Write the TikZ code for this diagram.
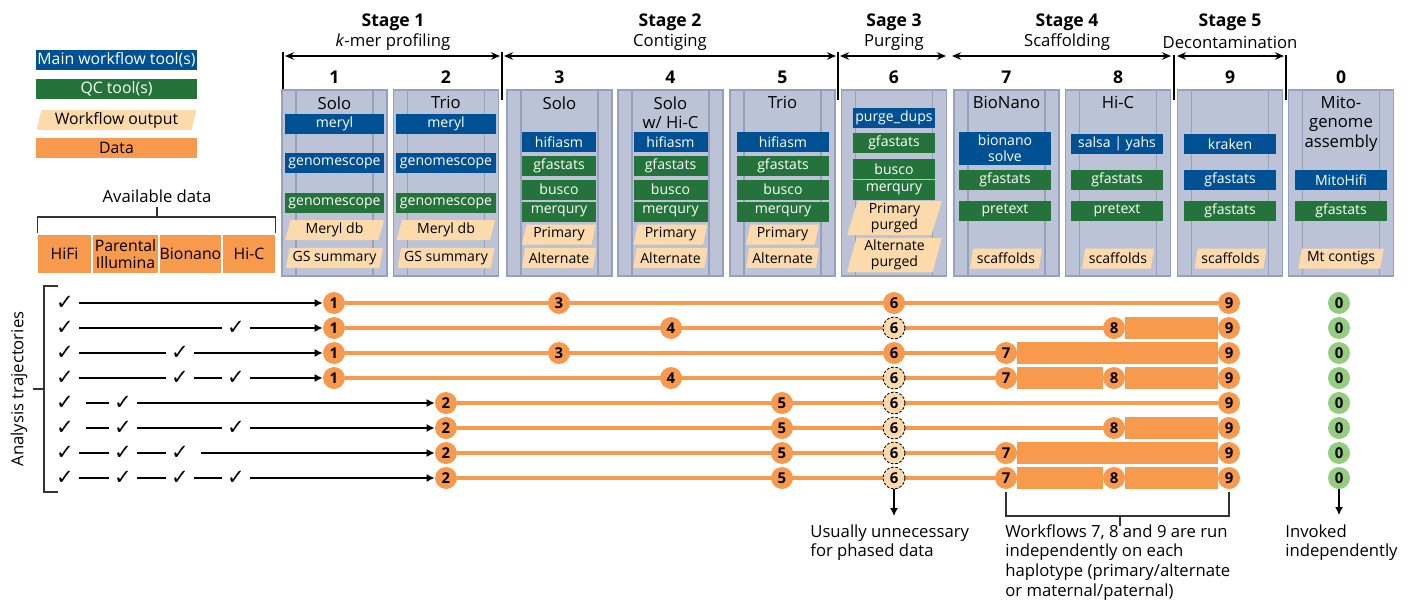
\documentclass[tikz,border=0pt]{standalone}
\usepackage{fontspec}
\setmainfont{Open Sans}
\newfontfamily\checkfont{DejaVu Sans}
\usetikzlibrary{positioning,arrows.meta,shapes.geometric,calc,backgrounds}
\definecolor{ToolBlue}{RGB}{0,81,147}
\definecolor{QCGreen}{RGB}{36,115,58}
\definecolor{OutPeach}{RGB}{253,218,172}
\definecolor{DataOrange}{RGB}{247,154,78}
\definecolor{PanelGrey}{RGB}{189,195,214}
\definecolor{PanelLine}{RGB}{150,160,189}
\definecolor{MitoGreen}{RGB}{148,204,128}

\begin{document}
\begin{tikzpicture}[
    x=0.02cm, y=-0.02cm,
    every node/.style={inner sep=0pt},
    panel/.style={rectangle, fill=PanelGrey, draw=PanelLine, line width=0.6pt,
        minimum width=2.1cm, minimum height=3.72cm,
        path picture={
            \draw[PanelLine, line width=0.8pt]
                ([xshift=0.28cm]path picture bounding box.north west) -- ([xshift=0.28cm]path picture bounding box.south west)
                ([xshift=-0.28cm]path picture bounding box.north east) -- ([xshift=-0.28cm]path picture bounding box.south east);
        }},
    coltitle/.style={anchor=north, align=center, font=\fontsize{9.5}{11}\selectfont},
    colnum/.style={font=\fontsize{10}{12}\selectfont\bfseries},
    stagetitle/.style={font=\fontsize{10}{12}\selectfont\bfseries},
    stagesub/.style={font=\fontsize{9.5}{11}\selectfont},
    stagearrow/.style={{Stealth[length=1.8mm,width=1.5mm]}-{Stealth[length=1.8mm,width=1.5mm]}, line width=0.8pt},
    stagetick/.style={line width=0.8pt},
    tool/.style={rectangle, fill=ToolBlue, text=white, minimum height=0.4cm,
        font=\fontsize{8}{9}\selectfont, align=center},
    qc/.style={tool, fill=QCGreen},
    output/.style={trapezium, trapezium left angle=76, trapezium right angle=104,
        trapezium stretches=true, fill=OutPeach, minimum height=0.4cm,
        font=\fontsize{8}{9}\selectfont, align=center},
    datbox/.style={rectangle, fill=DataOrange, minimum height=0.76cm,
        font=\fontsize{9}{9.6}\selectfont, align=center},
    legbox/.style={minimum width=3.22cm, minimum height=0.4cm, font=\fontsize{9}{10}\selectfont},
    chk/.style={font=\checkfont\fontsize{12}{12}\selectfont, minimum width=0.54cm},
    traj/.style={line width=0.8pt},
    trajend/.style={traj, -{Latex[length=1.6mm,width=1.6mm]}},
    short/.style={shorten <=0.14cm},
    brk/.style={line width=0.6pt, black!80},
    wf/.style={circle, fill=DataOrange, minimum size=0.44cm, font=\fontsize{8.5}{9}\selectfont\bfseries},
    wfskip/.style={wf, fill=OutPeach, draw=black, dashed, line width=0.5pt, dash pattern=on 1.5pt off 1pt},
    mito/.style={wf, fill=MitoGreen},
    orline/.style={DataOrange, line width=2.8pt},
    note/.style={anchor=north west, align=left, font=\fontsize{9.5}{11.3}\selectfont},
]
\path[use as bounding box] (0,0) rectangle (1416,599);

\node[legbox, fill=ToolBlue, text=white] (lgmain) at (116.5,60) {Main workflow tool(s)};
\node[legbox, fill=QCGreen, text=white] (lgqc) at (116.5,89) {QC tool(s)};
\node[output, minimum width=3.22cm, font=\fontsize{9}{10}\selectfont] (lgout) at (116.5,120) {Workflow output};
\node[legbox, fill=DataOrange] (lgdata) at (116.5,148) {Data};

\node[font=\fontsize{9.5}{11}\selectfont] (avail) at (157,196) {Available data};
\node[datbox, minimum width=1.06cm] (dHiFi) at (64.5,254) {HiFi};
\node[datbox, minimum width=1.30cm] (dPar) at (125.5,254) {Parental\\Illumina};
\node[datbox, minimum width=1.22cm] (dBio) at (190.5,254) {Bionano};
\node[datbox, minimum width=1.04cm] (dHiC) at (249,254) {Hi-C};
\coordinate (avb) at (157,217);
\draw[brk] ([yshift=0.04cm]dHiFi.north west) |- (avb) -| ([yshift=0.04cm]dHiC.north east);
\draw[brk] (avb) -- ++(0,-10);

\node[stagetitle] (st1) at (393,22) {Stage 1};
\node[stagesub] (ss1) at (393,42) {\textit{k}-mer profiling};
\node[stagetitle] (st2) at (670,22) {Stage 2};
\node[stagesub] (ss2) at (670,42) {Contiging};
\node[stagetitle] (st3) at (894,22) {Sage 3};
\node[stagesub] (ss3) at (894,42) {Purging};
\node[stagetitle] (st4) at (1067,22) {Stage 4};
\node[stagesub] (ss4) at (1067,42) {Scaffolding};
\node[stagetitle] (st5) at (1230,22) {Stage 5};
\node[stagesub] (ss5) at (1230,42) {Decontamination};

\coordinate (a1l) at (285,56);  \coordinate (a1r) at (500,56);
\coordinate (a2l) at (504,56);  \coordinate (a2r) at (836,56);
\coordinate (a3l) at (840,56);  \coordinate (a3r) at (946,56);
\coordinate (a4l) at (952,56);  \coordinate (a4r) at (1171,56);
\coordinate (a5l) at (1177,56); \coordinate (a5r) at (1284,56);
\draw[stagearrow] (a1l) -- (a1r);
\draw[stagearrow] (a2l) -- (a2r);
\draw[stagearrow] (a3l) -- (a3r);
\draw[stagearrow] (a4l) -- (a4r);
\draw[stagearrow] (a5l) -- (a5r);
\draw[stagetick] (283,52) -- (283,100);
\draw[stagetick] (502,52) -- (502,100);
\draw[stagetick] (838,52) -- (838,100);
\draw[stagetick] (1174,55) -- (1174,100);
\draw[stagetick] (1286,55) -- (1286,100);

\node[colnum] (n1) at (334.5,77) {1};
\node[colnum] (n2) at (446,77) {2};
\node[colnum] (n3) at (559.5,77) {3};
\node[colnum] (n4) at (670.5,77) {4};
\node[colnum] (n5) at (782.5,77) {5};
\node[colnum] (n6) at (894,77) {6};
\node[colnum] (n7) at (1006.5,77) {7};
\node[colnum] (n8) at (1118,77) {8};
\node[colnum] (n9) at (1230,77) {9};
\node[colnum] (n0) at (1341,77) {0};

\node[panel] (p1) at (334.5,183) {};
\node[panel] (p2) at (446,183) {};
\node[panel] (p3) at (559.5,183) {};
\node[panel] (p4) at (670.5,183) {};
\node[panel] (p5) at (782.5,183) {};
\node[panel] (p6) at (894,183) {};
\node[panel] (p7) at (1006.5,183) {};
\node[panel] (p8) at (1118,183) {};
\node[panel] (p9) at (1230,183) {};
\node[panel] (p0) at (1341,183) {};

\node[coltitle] (h1) at (334.5,96) {Solo};
\node[tool, minimum width=2cm] (c1meryl) at (334.5,123.5) {meryl};
\node[tool, minimum width=2cm] (c1gs) at (334.5,163) {genomescope};
\node[qc, minimum width=2cm] (c1gsqc) at (334.5,203) {genomescope};
\node[output, minimum width=1.98cm] (c1db) at (334.5,230) {Meryl db};
\node[output, minimum width=1.94cm] (c1sum) at (334.5,258) {GS summary};

\node[coltitle] (h2) at (446,96) {Trio};
\node[tool, minimum width=2cm] (c2meryl) at (446,123.5) {meryl};
\node[tool, minimum width=2cm] (c2gs) at (446,163) {genomescope};
\node[qc, minimum width=2cm] (c2gsqc) at (446,203) {genomescope};
\node[output, minimum width=1.98cm] (c2db) at (446,230) {Meryl db};
\node[output, minimum width=1.94cm] (c2sum) at (446,258) {GS summary};

\node[coltitle] (h3) at (559.5,96) {Solo};
\node[tool, minimum width=1.48cm] (c3hifi) at (559,142) {hifiasm};
\node[qc, minimum width=1.48cm] (c3gfa) at (559,165.5) {gfastats};
\node[qc, minimum width=1.48cm] (c3bus) at (559,189.5) {busco};
\node[qc, minimum width=1.48cm] (c3mer) at (559,211.5) {merqury};
\node[output, minimum width=1.48cm] (c3pri) at (559,234.5) {Primary};
\node[output, minimum width=1.48cm] (c3alt) at (559,258) {Alternate};

\node[coltitle] (h4) at (670.5,96) {Solo\\w/ Hi-C};
\node[tool, minimum width=1.48cm] (c4hifi) at (670.5,142) {hifiasm};
\node[qc, minimum width=1.48cm] (c4gfa) at (670.5,165.5) {gfastats};
\node[qc, minimum width=1.48cm] (c4bus) at (670.5,189.5) {busco};
\node[qc, minimum width=1.48cm] (c4mer) at (670.5,211.5) {merqury};
\node[output, minimum width=1.48cm] (c4pri) at (670.5,234.5) {Primary};
\node[output, minimum width=1.48cm] (c4alt) at (670.5,258) {Alternate};

\node[coltitle] (h5) at (782.5,96) {Trio};
\node[tool, minimum width=1.84cm] (c5hifi) at (783,142) {hifiasm};
\node[qc, minimum width=1.84cm] (c5gfa) at (783,165.5) {gfastats};
\node[qc, minimum width=1.84cm] (c5bus) at (783,189.5) {busco};
\node[qc, minimum width=1.84cm] (c5mer) at (783,211.5) {merqury};
\node[output, minimum width=1.46cm] (c5pri) at (782.5,234.5) {Primary};
\node[output, minimum width=1.46cm] (c5alt) at (782.5,258) {Alternate};

\node[tool, minimum width=1.64cm] (c6pd) at (894,118) {purge\_dups};
\node[qc, minimum width=1.64cm] (c6gfa) at (894,143) {gfastats};
\node[qc, minimum width=1.64cm] (c6bus) at (894,169) {busco};
\node[qc, minimum width=1.64cm] (c6mer) at (894,189.5) {merqury};
\node[output, minimum width=1.9cm, minimum height=0.68cm] (c6pri) at (894.5,218) {Primary\\purged};
\node[output, minimum width=1.9cm, minimum height=0.68cm] (c6alt) at (894.5,255) {Alternate\\purged};

\node[coltitle] (h7) at (1006.5,96) {BioNano};
\node[tool, minimum width=1.84cm, minimum height=0.66cm] (c7bio) at (1005,148.5) {bionano\\solve};
\node[qc, minimum width=1.84cm] (c7gfa) at (1005,180) {gfastats};
\node[qc, minimum width=1.84cm] (c7pre) at (1005,211) {pretext};
\node[output, minimum width=1.44cm] (c7scf) at (1006,258.5) {scaffolds};

\node[coltitle] (h8) at (1118,96) {Hi-C};
\node[tool, minimum width=1.84cm] (c8sy) at (1117,144) {salsa | yahs};
\node[qc, minimum width=1.84cm] (c8gfa) at (1117,180) {gfastats};
\node[qc, minimum width=1.84cm] (c8pre) at (1117,211) {pretext};
\node[output, minimum width=1.44cm] (c8scf) at (1118,258.5) {scaffolds};

\node[tool, minimum width=1.84cm] (c9kr) at (1230,144) {kraken};
\node[tool, minimum width=1.84cm] (c9gfa) at (1230,180) {gfastats};
\node[qc, minimum width=1.84cm] (c9gfaqc) at (1230,211) {gfastats};
\node[output, minimum width=1.44cm] (c9scf) at (1230.5,258.5) {scaffolds};

\node[coltitle] (h0) at (1341,96) {Mito-\\genome\\assembly};
\node[tool, minimum width=1.84cm] (c0mh) at (1341,180) {MitoHifi};
\node[qc, minimum width=1.84cm] (c0gfa) at (1341,211) {gfastats};
\node[output, minimum width=1.72cm] (c0mt) at (1341,258.5) {Mt contigs};

\node[rotate=90, font=\fontsize{9.5}{11}\selectfont] (atraj) at (19,389) {Analysis trajectories};
\draw[brk] (58,286) -- (44,286) -- (44,492) -- (58,492);
\draw[brk] (44,389) -- (33,389);

\node[chk] (k1a) at (65,303) {✓};
\node[wf] (r1w1) at (334,303) {1};
\node[wf] (r1w3) at (559,303) {3};
\node[wf] (r1w6) at (894,303) {6};
\node[wf] (r1w9) at (1229,303) {9};
\node[mito] (r1w0) at (1339,303) {0};
\draw[trajend] (k1a) -- (r1w1);

\node[chk] (k2a) at (65,328) {✓};
\node[chk] (k2d) at (236,328) {✓};
\node[wf] (r2w1) at (334,328) {1};
\node[wf] (r2w4) at (671,328) {4};
\node[wfskip] (r2w6) at (894,328) {6};
\node[wf] (r2w8) at (1114,328) {8};
\node[wf] (r2w9) at (1229,328) {9};
\node[mito] (r2w0) at (1339,328) {0};
\draw[traj] (k2a) -- (k2d);
\draw[trajend] (k2d) -- (r2w1);

\node[chk] (k3a) at (65,353) {✓};
\node[chk] (k3c) at (180,353) {✓};
\node[wf] (r3w1) at (334,353) {1};
\node[wf] (r3w3) at (559,353) {3};
\node[wf] (r3w6) at (894,353) {6};
\node[wf] (r3w7) at (1006,353) {7};
\node[wf] (r3w9) at (1229,353) {9};
\node[mito] (r3w0) at (1339,353) {0};
\draw[traj] (k3a) -- (k3c);
\draw[trajend] (k3c) -- (r3w1);

\node[chk] (k4a) at (65,378) {✓};
\node[chk] (k4c) at (180,378) {✓};
\node[chk] (k4d) at (236,378) {✓};
\node[wf] (r4w1) at (334,378) {1};
\node[wf] (r4w4) at (671,378) {4};
\node[wfskip] (r4w6) at (894,378) {6};
\node[wf] (r4w7) at (1006,378) {7};
\node[wf] (r4w8) at (1114,378) {8};
\node[wf] (r4w9) at (1229,378) {9};
\node[mito] (r4w0) at (1339,378) {0};
\draw[traj] (k4a) -- (k4c);
\draw[traj] (k4c) -- (k4d);
\draw[trajend] (k4d) -- (r4w1);

\node[chk] (k5a) at (65,403) {✓};
\node[chk] (k5b) at (123,403) {✓};
\node[wf] (r5w2) at (446,403) {2};
\node[wf] (r5w5) at (782,403) {5};
\node[wfskip] (r5w6) at (894,403) {6};
\node[wf] (r5w9) at (1229,403) {9};
\node[mito] (r5w0) at (1339,403) {0};
\draw[traj, short] (k5a) -- (k5b);
\draw[trajend] (k5b) -- (r5w2);

\node[chk] (k6a) at (65,428) {✓};
\node[chk] (k6b) at (123,428) {✓};
\node[chk] (k6d) at (236,428) {✓};
\node[wf] (r6w2) at (446,428) {2};
\node[wf] (r6w5) at (782,428) {5};
\node[wfskip] (r6w6) at (894,428) {6};
\node[wf] (r6w8) at (1114,428) {8};
\node[wf] (r6w9) at (1229,428) {9};
\node[mito] (r6w0) at (1339,428) {0};
\draw[traj, short] (k6a) -- (k6b);
\draw[traj] (k6b) -- (k6d);
\draw[trajend] (k6d) -- (r6w2);

\node[chk] (k7a) at (65,453) {✓};
\node[chk] (k7b) at (123,453) {✓};
\node[chk] (k7c) at (180,453) {✓};
\node[wf] (r7w2) at (446,453) {2};
\node[wf] (r7w5) at (782,453) {5};
\node[wfskip] (r7w6) at (894,453) {6};
\node[wf] (r7w7) at (1006,453) {7};
\node[wf] (r7w9) at (1229,453) {9};
\node[mito] (r7w0) at (1339,453) {0};
\draw[traj] (k7a) -- (k7b);
\draw[traj] (k7b) -- (k7c);
\draw[trajend, short] (k7c) -- (r7w2);

\node[chk] (k8a) at (65,478) {✓};
\node[chk] (k8b) at (123,478) {✓};
\node[chk] (k8c) at (180,478) {✓};
\node[chk] (k8d) at (236,478) {✓};
\node[wf] (r8w2) at (446,478) {2};
\node[wf] (r8w5) at (782,478) {5};
\node[wfskip] (r8w6) at (894,478) {6};
\node[wf] (r8w7) at (1006,478) {7};
\node[wf] (r8w8) at (1114,478) {8};
\node[wf] (r8w9) at (1229,478) {9};
\node[mito] (r8w0) at (1339,478) {0};
\draw[traj] (k8a) -- (k8b);
\draw[traj] (k8b) -- (k8c);
\draw[traj] (k8c) -- (k8d);
\draw[trajend] (k8d) -- (r8w2);

\begin{scope}[on background layer]
\draw[orline] (r1w1) -- (r1w9);
\draw[orline] (r2w1) -- (r2w9);
\draw[orline] (r3w1) -- (r3w9);
\draw[orline] (r4w1) -- (r4w9);
\draw[orline] (r5w2) -- (r5w9);
\draw[orline] (r6w2) -- (r6w9);
\draw[orline] (r7w2) -- (r7w9);
\draw[orline] (r8w2) -- (r8w9);
\end{scope}

\fill[DataOrange] ([yshift=0.22cm]r2w8.east) rectangle ([yshift=-0.22cm]r2w9.west);
\fill[DataOrange] ([yshift=0.22cm]r3w7.east) rectangle ([yshift=-0.22cm]r3w9.west);
\fill[DataOrange] ([yshift=0.22cm]r4w7.east) rectangle ([yshift=-0.22cm]r4w8.west);
\fill[DataOrange] ([yshift=0.22cm]r4w8.east) rectangle ([yshift=-0.22cm]r4w9.west);
\fill[DataOrange] ([yshift=0.22cm]r6w8.east) rectangle ([yshift=-0.22cm]r6w9.west);
\fill[DataOrange] ([yshift=0.22cm]r7w7.east) rectangle ([yshift=-0.22cm]r7w9.west);
\fill[DataOrange] ([yshift=0.22cm]r8w7.east) rectangle ([yshift=-0.22cm]r8w8.west);
\fill[DataOrange] ([yshift=0.22cm]r8w8.east) rectangle ([yshift=-0.22cm]r8w9.west);

\coordinate (n6end) at (894,516);
\draw[trajend] (r8w6) -- (n6end);
\node[note] (n6txt) at (810,524) {Usually unnecessary\\for phased data};

\coordinate (hb) at (1120,516);
\draw[brk] ([yshift=-0.06cm]r8w7.south) |- (hb) -| ([yshift=-0.06cm]r8w9.south);
\draw[brk] (hb) -- ++(0,10);
\node[note] (hbtxt) at (1005,524) {Workflows 7, 8 and 9 are run\\independently on each\\haplotype (primary/alternate\\or maternal/paternal)};

\coordinate (m0end) at (1339,515);
\draw[trajend] (r8w0) -- (m0end);
\node[note] (m0txt) at (1285,524) {Invoked\\independently};
\end{tikzpicture}
\end{document}
